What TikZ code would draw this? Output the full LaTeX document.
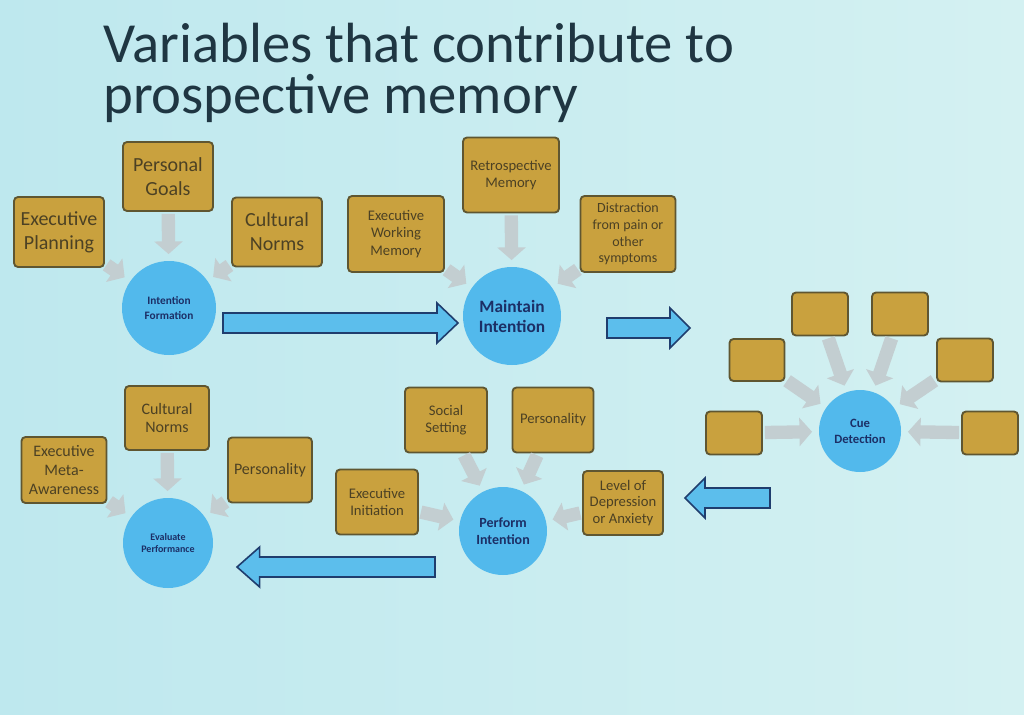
\documentclass[tikz,border=0pt]{standalone}
\usepackage{fontspec}
\setmainfont{Carlito}
\usetikzlibrary{arrows.meta,calc}
\definecolor{bgl}{HTML}{BEE8EE}
\definecolor{bgr}{HTML}{D4F1F2}
\definecolor{gold}{HTML}{C9A13E}
\definecolor{goldline}{HTML}{5F5631}
\definecolor{goldtext}{HTML}{4C4124}
\definecolor{circ}{HTML}{52B9EC}
\definecolor{navy}{HTML}{1C2F66}
\definecolor{arrfill}{HTML}{5CBEEC}
\definecolor{arrline}{HTML}{1F3D6E}
\definecolor{grayarr}{HTML}{C3CED1}
\definecolor{titlecol}{HTML}{1F3642}
\newcommand\fs[2]{\fontsize{#1}{#2}\selectfont}
\newcommand\blockarrow[3]{%
  \draw[bigarrow] let \p1=(#1), \p2=(#2) in
  (\x1,\y1+7.5pt) -- (\x2+#3,\y1+7.5pt) -- (\x2+#3,\y1+15pt) -- (\x2,\y1)
  -- (\x2+#3,\y1-15pt) -- (\x2+#3,\y1-7.5pt) -- (\x1,\y1-7.5pt) -- cycle;}
\begin{document}
\begin{tikzpicture}[x=0.75pt,y=-0.75pt,
  gbox/.style 2 args={draw=goldline, line width=1.4pt, fill=gold, rounded corners=3pt,
    minimum width=#1*0.75pt, minimum height=#2*0.75pt, inner sep=0pt, align=center, text=goldtext},
  circnode/.style={circle, fill=circ, minimum size=#1*0.75pt, inner sep=0pt, align=center,
    text=navy},
  garrow/.style={draw=grayarr, line width=10pt,
    -{Triangle[width=21pt,length=9.5pt,fill=grayarr]}, shorten >=5pt, shorten <=1.5pt},
  bigarrow/.style={draw=arrline, fill=arrfill, line width=1.2pt, line join=miter},
  titletext/.style={anchor=base west, inner sep=0pt, text=titlecol, font=\fs{42.5}{42.5}}]
\useasboundingbox (0,0) rectangle (1024,714);
\shade[left color=bgl, right color=bgr] (0,0) rectangle (1024,714);

% title
\node[titletext] (t1) at (103,62) {Variables that contribute to};
\node[titletext] (t2) at (103,113) {prospective memory};

% group 1: intention formation
\node[circnode=94, font=\bfseries\fs{8.5}{11}] (intf) at (169,308) {Intention\\Formation};
\node[gbox={90}{69}, font=\fs{15}{18}] (pgoals) at (168,176.5) {Personal\\Goals};
\node[gbox={90}{70}, font=\fs{15}{18}] (eplan) at (59,232) {Executive\\Planning};
\node[gbox={90}{69}, font=\fs{15}{18}] (cnorms) at (277,232) {Cultural\\Norms};

% group 2: maintain intention
\node[circnode=98, font=\bfseries\fs{13}{15}] (maint) at (512,316) {Maintain\\Intention};
\node[gbox={96}{75}, font=\fs{11}{13}] (retro) at (511,175) {Retrospective\\Memory};
\node[gbox={96}{76}, font=\fs{11}{13}] (ewm) at (396,234) {Executive\\Working\\Memory};
\node[gbox={95}{76}, font=\fs{10.5}{12.5}] (distr) at (628,234) {Distraction\\from pain or\\other\\symptoms};

% group 3: cue detection
\node[circnode=82, font=\bfseries\fs{9.5}{12}] (cue) at (860,431) {Cue\\Detection};
\node[gbox={55}{42}] (c1) at (757,360) {};
\node[gbox={56}{43}] (c2) at (820,314) {};
\node[gbox={56}{43}] (c3) at (900,314) {};
\node[gbox={56}{43}] (c4) at (965,360) {};
\node[gbox={56}{43}] (c5) at (734,433) {};
\node[gbox={56}{43}] (c6) at (990,433) {};

% group 4: perform intention
\node[circnode=88, font=\bfseries\fs{10.5}{13}] (perf) at (503,531) {Perform\\Intention};
\node[gbox={82}{65}, font=\fs{11}{13}] (social) at (446,420) {Social\\Setting};
\node[gbox={81}{65}, font=\fs{11}{13}] (pers) at (553,420) {Personality};
\node[gbox={82}{65}, font=\fs{11}{13}] (einit) at (377,502) {Executive\\Initiation};
\node[gbox={80}{64}, font=\fs{11}{12.5}] (level) at (623,503) {Level of\\Depression\\or Anxiety};

% group 5: evaluate performance
\node[circnode=90, font=\bfseries\fs{7.5}{9.5}] (evalp) at (168,543) {Evaluate\\Performance};
\node[gbox={84}{64}, font=\fs{12}{14}] (cnorms2) at (167,418) {Cultural\\Norms};
\node[gbox={85}{66}, font=\fs{12}{14}] (meta) at (64,470) {Executive\\Meta-\\Awareness};
\node[gbox={84}{65}, font=\fs{12}{14}] (pers2) at (270,470) {Personality};

% gray arrows
\draw[garrow] (pgoals) -- (intf);
\draw[garrow] (eplan) -- (intf);
\draw[garrow] (cnorms) -- (intf);
\draw[garrow] (retro) -- (maint);
\draw[garrow] (ewm) -- (maint);
\draw[garrow] (distr) -- (maint);
\foreach \b in {c1,c2,c3,c4,c5,c6} \draw[garrow] (\b) -- (cue);
\draw[garrow] (social) -- (perf);
\draw[garrow] (pers) -- (perf);
\draw[garrow] (einit) -- (perf);
\draw[garrow] (level) -- (perf);
\draw[garrow] (cnorms2) -- (evalp);
\draw[garrow] (meta) -- (evalp);
\draw[garrow] (pers2) -- (evalp);

% big block arrows
\coordinate (a1s) at (223,323); \coordinate (a1e) at (458,323);
\coordinate (a2s) at (607,328); \coordinate (a2e) at (690,328);
\coordinate (a3s) at (770,498); \coordinate (a3e) at (685,498);
\coordinate (a4s) at (435,567); \coordinate (a4e) at (237,567);
\blockarrow{a1s}{a1e}{-15.75pt}
\blockarrow{a2s}{a2e}{-15pt}
\blockarrow{a3s}{a3e}{15pt}
\blockarrow{a4s}{a4e}{17pt}
\end{tikzpicture}
\end{document}
